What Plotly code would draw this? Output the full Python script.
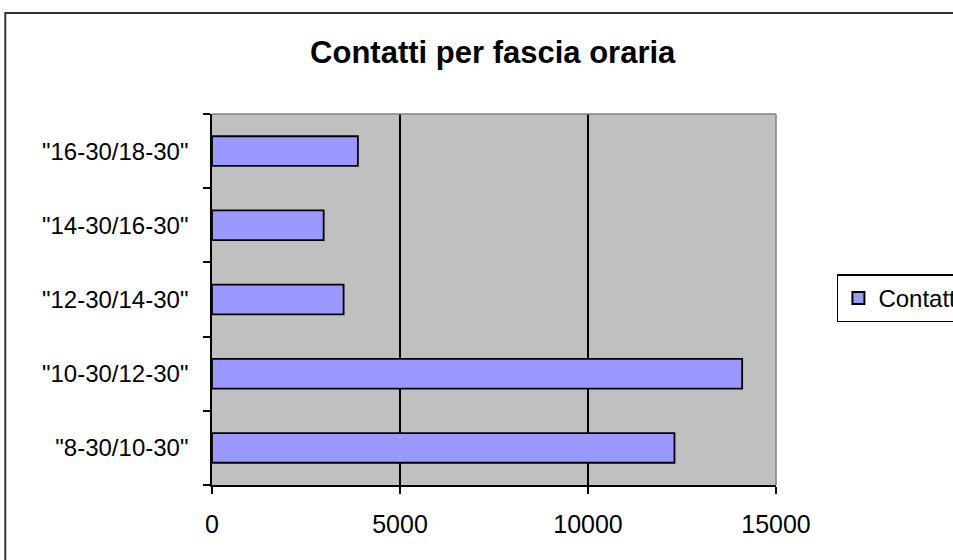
import plotly.graph_objects as go

categories = ['"8-30/10-30"', '"10-30/12-30"', '"12-30/14-30"', '"14-30/16-30"', '"16-30/18-30"']
contatti = [12300, 14100, 3500, 2970, 3880]
x_ticks = [0, 5000, 10000, 15000]
series_name = "Contatti"
title_text = "Contatti per fascia oraria"

FONT = "Arial, Liberation Sans, sans-serif"

fig = go.Figure()
fig.add_trace(go.Bar(
    y=categories, x=contatti, orientation="h", name=series_name,
    width=0.4,
    marker=dict(color="#9999FF", line=dict(color="#000000", width=1.8)),
    showlegend=True,
))

fig.update_layout(
    width=953, height=560,
    margin=dict(l=212, r=177, t=114, b=75, autoexpand=False),
    paper_bgcolor="#FFFFFF",
    plot_bgcolor="#C0C0C0",
    font=dict(family=FONT, size=24, color="#000000"),
    title=dict(text=title_text, x=0.517, xref="container", xanchor="center",
               y=0.906, yref="container", yanchor="middle",
               font=dict(family=FONT, size=31, color="#000000", weight="bold")),
    showlegend=True,
    legend=dict(x=1.108, y=0.503, xanchor="left", yanchor="middle",
                bgcolor="#FFFFFF", bordercolor="#000000", borderwidth=1.5,
                font=dict(family=FONT, size=24, color="#000000"),
                itemsizing="constant"),
)

fig.update_xaxes(
    range=[0, 15000], tickvals=x_ticks, ticktext=[str(v) for v in x_ticks],
    showgrid=True, gridcolor="#000000", gridwidth=1.5,
    showline=True, linecolor="#000000", linewidth=1.5,
    ticks="outside", ticklen=7, tickcolor="#000000", tickwidth=1.5,
    zeroline=False, ticklabelstandoff=9,
    tickfont=dict(size=25),
    fixedrange=True,
)
fig.update_yaxes(
    type="category", categoryorder="array", categoryarray=categories,
    showgrid=False, showline=True, linecolor="#000000", linewidth=1.5,
    ticks="outside", ticklen=7, tickcolor="#000000", tickwidth=1.5,
    tickson="boundaries", ticklabelstandoff=17, zeroline=False,
    fixedrange=True,
)

# plot area top & right border (gray)
fig.add_shape(type="line", xref="x domain", yref="y domain", x0=0, x1=1, y0=1, y1=1,
              line=dict(color="#808080", width=1.5), layer="above")
fig.add_shape(type="line", xref="x domain", yref="y domain", x0=1, x1=1, y0=0, y1=1,
              line=dict(color="#808080", width=1.5), layer="above")
# chart area frame
fig.add_shape(type="rect", xref="paper", yref="paper",
              x0=-0.3665, x1=1.5, y0=-0.4, y1=1.272,
              line=dict(color="#333333", width=2), fillcolor="rgba(0,0,0,0)", layer="below")

fig.write_html("out.html", config={"displayModeBar": False},
               post_script="document.body.style.margin='0';document.body.style.overflow='hidden';")
